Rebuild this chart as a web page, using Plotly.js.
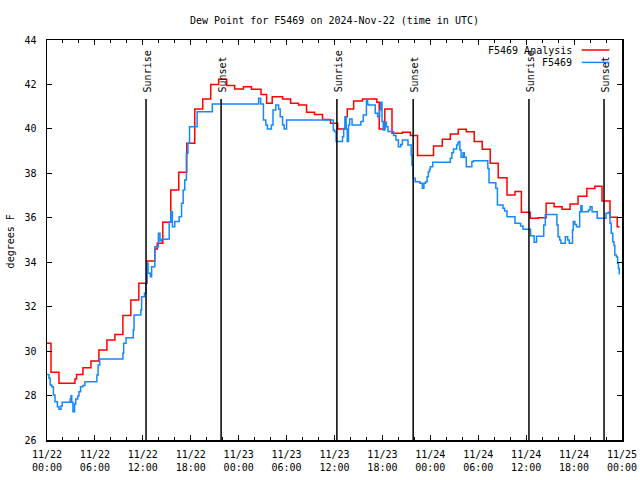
<!DOCTYPE html>
<html>
<head>
<meta charset="utf-8">
<script src="https://cdn.plot.ly/plotly-3.0.1.min.js"></script>
<style>
  html, body { margin: 0; padding: 0; background: #ffffff; }
  #chart { width: 640px; height: 480px; }
</style>
</head>
<body>
<div id="chart"></div>
<script>
// ---- Data (hours since 2024-11-22 00:00 UTC) ----
const redHours = [0, 0.5, 1.5, 3.5, 3.7, 4.5, 5.5, 6.5, 7.5, 8.5, 9.5, 10.5, 11.5, 12.5, 13.5, 13.8,
  14.5, 15.5, 16.5, 17.5, 18.5, 19.5, 20.5, 21.5, 22.5, 23.5, 24.6, 25.6, 26.8, 27.5, 28.2, 29.5,
  30.5, 31.5, 32.5, 33.5, 34.5, 35.5, 36.4, 37.4, 37.6, 38.4, 39.5, 41.3, 41.6, 42.3, 43.2, 44.5,
  45.5, 46.4, 48.4, 49.5, 50.5, 51.5, 52.5, 53.5, 54.5, 55.5, 56.5, 57.6, 58.6, 59.4, 60.5, 61.5,
  62.5, 63.5, 64.5, 65.5, 66.5, 67.6, 68.6, 69.5, 70.5, 71.4, 71.7];
const redValues = [30.35, 29.05, 28.55, 28.75, 28.95, 29.25, 29.55, 30.05, 30.5, 30.75, 31.6, 32.3, 33.05, 34.05, 34.6, 34.85,
  35.8, 37.25, 38.05, 39.35, 40.9, 41.35, 42.0, 42.23, 41.95, 41.8, 41.9, 41.78, 41.55, 41.15, 41.45, 41.35,
  41.15, 41.07, 40.75, 40.65, 40.42, 40.25, 40.0, 40.55, 40.9, 41.25, 41.35, 41.2, 40.0, 40.9, 39.8, 39.85,
  39.7, 38.8, 39.23, 39.53, 39.77, 39.98, 39.87, 39.43, 39.08, 38.45, 37.8, 37.02, 37.18, 36.25, 35.98, 36.0,
  36.65, 36.5, 36.38, 36.62, 36.97, 37.32, 37.42, 36.75, 36.02, 35.6, 35.6];

const blueHours = [0, 0.25, 0.4, 0.6, 0.8, 1.0, 1.3, 1.5, 1.75, 1.9, 2.9, 3.0, 3.1, 3.25, 3.45, 3.6, 3.85,
  4.0, 4.2, 4.5, 4.75, 6.25, 6.4, 6.6, 9.5, 9.6, 9.9, 10.8, 10.9, 11.75, 11.85, 12.2, 12.4, 12.5,
  12.65, 12.95, 13.1, 13.5, 13.95, 14.15, 14.35, 15.05, 15.3, 15.5, 15.7, 16.0, 16.55, 16.85, 17.05,
  17.25, 17.45, 17.65, 17.85, 18.8, 20.7, 26.25, 26.5, 26.75, 27.1, 27.4, 27.6, 28.1, 28.3, 28.65,
  29.0, 29.2, 29.5, 29.7, 30.0, 35.85, 36.0, 36.2, 37.0, 37.15, 37.3, 37.45, 37.6, 37.75, 37.9,
  38.2, 39.3, 39.6, 40.0, 40.15, 40.3, 41.1, 41.4, 41.65, 41.8, 41.95, 42.1, 42.3, 42.5, 42.7,
  43.4, 43.7, 44.0, 44.3, 44.5, 45.2, 45.6, 45.7, 45.85, 46.1, 46.7, 47.0, 47.2, 47.4, 47.6,
  47.75, 47.9, 48.0, 48.3, 50.5, 50.7, 50.9, 51.3, 51.45, 51.6, 51.7, 51.85, 52.1, 52.25, 52.5,
  53.2, 53.4, 55.2, 55.35, 56.2, 56.4, 57.1, 57.3, 57.6, 58.6, 59.3, 59.6, 60.55, 61.0, 61.3,
  62.2, 62.4, 63.85, 64.0, 64.2, 64.35, 64.9, 65.2, 65.4, 65.8, 65.9, 66.1, 66.3, 66.7, 66.85,
  67.0, 67.8, 68.0, 68.25, 68.9, 70.0, 70.3, 70.5, 70.65, 70.85, 71.0, 71.1, 71.3, 71.45, 71.55, 71.66];
const blueValues = [28.95, 28.78, 28.47, 28.4, 28.02, 27.72, 27.5, 27.38, 27.53, 27.7, 27.85, 27.99, 27.7, 27.27, 27.62, 27.85, 27.98,
  28.17, 28.4, 28.45, 28.62, 28.92, 29.38, 29.65, 29.9, 30.35, 30.6, 30.95, 31.62, 31.85, 32.45, 32.6, 33.05, 33.95,
  33.5, 33.35, 33.8, 34.7, 35.3, 34.95, 35.03, 35.05, 35.82, 36.27, 35.6, 35.83, 36.05, 36.65, 37.25,
  37.7, 38.9, 39.35, 40.1, 40.77, 41.12, 41.12, 41.38, 41.12, 40.4, 40.17, 40.0, 40.17, 40.85, 41.07,
  40.9, 40.55, 40.17, 40.0, 40.4, 39.95, 39.88, 39.43, 39.65, 40.02, 40.55, 40.0, 39.43, 40.17, 40.45,
  40.17, 40.33, 40.62, 41.3, 41.1, 41.07, 40.7, 40.55, 40.85, 41.2, 40.33, 39.95, 40.3, 40.1, 39.88,
  39.7, 39.5, 39.2, 39.3, 39.5, 39.28, 38.82, 38.37, 37.78, 37.62, 37.55, 37.33, 37.55, 37.62, 37.85,
  38.07, 38.17, 38.3, 38.5, 38.68, 38.93, 39.1, 39.28, 39.38, 39.43, 39.05, 38.72, 38.93, 38.72, 38.3,
  38.52, 38.57, 38.22, 37.58, 37.33, 36.58, 36.43, 36.3, 36.05, 35.75, 35.63, 35.48, 35.19, 34.9, 35.17,
  35.67, 36.15, 35.67, 35.15, 35.0, 34.85, 35.15, 35.0, 34.85, 35.45, 35.83, 35.7, 35.6, 36.27, 36.54,
  36.27, 36.35, 36.5, 36.27, 35.98, 36.2, 36.25, 35.75, 35.3, 34.92, 34.75, 34.33, 34.23, 33.95, 33.72, 33.45];

const sunEventHours = [12.4, 21.8, 36.3, 45.85, 60.35, 69.75];
const sunEventLabels = ['Sunrise', 'Sunset', 'Sunrise', 'Sunset', 'Sunrise', 'Sunset'];

const xTickHours = [0, 6, 12, 18, 24, 30, 36, 42, 48, 54, 60, 66, 72];
const xTickLabels = ['11/22<br>00:00', '11/22<br>06:00', '11/22<br>12:00', '11/22<br>18:00',
  '11/23<br>00:00', '11/23<br>06:00', '11/23<br>12:00', '11/23<br>18:00',
  '11/24<br>00:00', '11/24<br>06:00', '11/24<br>12:00', '11/24<br>18:00', '11/25<br>00:00'];

const seriesNames = ['F5469 Analysis', 'F5469'];
const seriesColors = ['#ff0000', '#1488ff'];

// ---- Plot ----
const FONT = 'DejaVu Sans Mono, monospace';

const traces = [
  { x: redHours, y: redValues, type: 'scatter', mode: 'lines', line: { shape: 'hv', color: seriesColors[0], width: 1.5 }, name: seriesNames[0], showlegend: false, hoverinfo: 'skip' },
  { x: blueHours, y: blueValues, type: 'scatter', mode: 'lines', line: { shape: 'hv', color: seriesColors[1], width: 1.5 }, name: seriesNames[1], showlegend: false, hoverinfo: 'skip' }
];

const shapes = [];
const annotations = [];
sunEventHours.forEach((h, i) => {
  shapes.push({ type: 'line', xref: 'x', yref: 'paper', x0: h, x1: h, y0: 0, y1: 0.8525, line: { color: '#000000', width: 1.5 } });
  annotations.push({ xref: 'x', yref: 'paper', x: h, y: 0.864, xanchor: 'center', yanchor: 'bottom', xshift: 1,
    text: sunEventLabels[i], textangle: -90, showarrow: false, font: { family: FONT, size: 10, color: '#000000' } });
});

// legend (gnuplot style: text right-aligned, sample line to the right)
const legendY = [0.975, 0.944];
seriesNames.forEach((n, i) => {
  annotations.push({ xref: 'paper', yref: 'paper', x: 0.9165, y: legendY[i], xanchor: 'right', yanchor: 'middle',
    text: n, showarrow: false, font: { family: FONT, size: 10, color: '#000000' } });
  shapes.push({ type: 'line', xref: 'paper', yref: 'paper', x0: 0.93, x1: 0.978, y0: legendY[i], y1: legendY[i],
    line: { color: seriesColors[i], width: 1.5 } });
});

annotations.push({ xref: 'paper', yref: 'paper', x: -0.063, y: 0.496, xanchor: 'center', yanchor: 'middle',
  text: 'degrees F', textangle: -90, showarrow: false, font: { family: FONT, size: 10, color: '#000000' } });

const layout = {
  width: 640, height: 480,
  margin: { l: 47, r: 18, t: 40, b: 40, pad: 0 },
  paper_bgcolor: '#ffffff', plot_bgcolor: '#ffffff',
  font: { family: FONT, size: 10, color: '#000000' },
  title: { text: 'Dew Point for F5469 on 2024-Nov-22 (time in UTC)', x: 0.5, xref: 'paper', xanchor: 'center', y: 0.958, yanchor: 'middle',
    font: { family: FONT, size: 10, color: '#000000' } },
  showlegend: false,
  xaxis: {
    range: [0, 72], tickmode: 'array', tickvals: xTickHours, ticktext: xTickLabels,
    ticks: 'inside', ticklen: 5, tickwidth: 1, tickcolor: '#000000',
    minor: { tickmode: 'linear', tick0: 0, dtick: 2, ticks: 'inside', ticklen: 3, tickwidth: 1, tickcolor: '#000000', showgrid: false },
    showline: true, linecolor: '#000000', linewidth: 1.5, mirror: 'ticks',
    showgrid: false, zeroline: false, ticklabelstandoff: 4,
    tickfont: { family: FONT, size: 10, color: '#000000' }
  },
  yaxis: {
    range: [26, 44], tickmode: 'linear', tick0: 26, dtick: 2,
    ticks: 'inside', ticklen: 5, tickwidth: 1, tickcolor: '#000000',
    showline: true, linecolor: '#000000', linewidth: 1.5, mirror: 'ticks',
    showgrid: false, zeroline: false, ticklabelstandoff: 7,
    tickfont: { family: FONT, size: 10, color: '#000000' }
  },
  shapes: shapes,
  annotations: annotations
};

Plotly.newPlot('chart', traces, layout, { staticPlot: true, displayModeBar: false });
</script>
</body>
</html>
